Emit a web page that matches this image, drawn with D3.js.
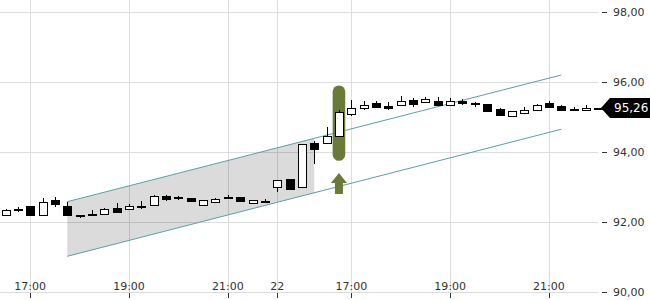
<!DOCTYPE html>
<html>
<head>
<meta charset="utf-8">
<script src="https://cdn.jsdelivr.net/npm/d3@7"></script>
<style>
  body { margin: 0; background: #fff; }
  text { font-family: "DejaVu Sans", sans-serif; }
</style>
</head>
<body>
<svg id="chart" width="650" height="300"></svg>
<script>
// 15 minute candles, two sessions (21st and 22nd)
const times = [
  "21 16:30","21 16:45","21 17:00","21 17:15","21 17:30","21 17:45","21 18:00","21 18:15","21 18:30","21 18:45",
  "21 19:00","21 19:15","21 19:30","21 19:45","21 20:00","21 20:15","21 20:30","21 20:45","21 21:00","21 21:15",
  "21 21:30","21 21:45",
  "22 15:30","22 15:45","22 16:00","22 16:15","22 16:30","22 16:45","22 17:00","22 17:15","22 17:30","22 17:45",
  "22 18:00","22 18:15","22 18:30","22 18:45","22 19:00","22 19:15","22 19:30","22 19:45","22 20:00","22 20:15",
  "22 20:30","22 20:45","22 21:00","22 21:15","22 21:30","22 21:45","22 22:00"
]
const opens = [92.19,92.38,92.45,92.19,92.63,92.47,92.21,92.24,92.24,92.40,92.38,92.46,92.50,92.75,92.71,92.68,92.50,92.58,92.72,92.70,
  92.55,92.60,93.00,93.23,92.99,94.25,94.25,94.46,95.10,95.27,95.40,95.32,95.35,95.49,95.44,95.47,95.35,95.47,95.41,95.37,
  95.23,95.03,95.11,95.21,95.39,95.32,95.24,95.20,95.26]
const highs = [92.37,92.44,92.46,92.68,92.70,92.56,92.21,92.33,92.39,92.53,92.52,92.59,92.76,92.76,92.74,92.69,92.63,92.68,92.78,92.72,
  92.63,92.65,93.20,93.24,94.24,94.32,94.70,95.21,95.50,95.45,95.47,95.42,95.61,95.53,95.56,95.56,95.55,95.52,95.42,95.38,
  95.27,95.17,95.29,95.36,95.45,95.33,95.29,95.34,95.26]
const lows = [92.17,92.29,92.19,92.18,92.44,92.18,92.12,92.20,92.23,92.27,92.33,92.38,92.49,92.59,92.64,92.60,92.47,92.56,92.66,92.58,
  92.53,92.54,92.86,92.92,92.97,93.65,94.24,94.43,95.04,95.21,95.29,95.21,95.34,95.30,95.43,95.34,95.34,95.35,95.29,95.17,
  95.05,95.02,95.10,95.20,95.28,95.19,95.17,95.19,95.26]
const closes = [92.35,92.36,92.20,92.57,92.52,92.19,92.17,92.21,92.38,92.30,92.47,92.47,92.73,92.66,92.69,92.61,92.62,92.67,92.68,92.60,
  92.62,92.57,93.19,92.93,94.22,94.08,94.46,95.15,95.27,95.35,95.30,95.25,95.47,95.37,95.52,95.35,95.45,95.40,95.38,95.18,
  95.06,95.16,95.21,95.35,95.29,95.20,95.22,95.27,95.26]

const tickKeys = ["21 17:00","21 19:00","21 21:00","22 15:30","22 17:00","22 19:00","22 21:00"]
const tickLabels = ["17:00","19:00","21:00","22","17:00","19:00","21:00"]
const priceTicks = [90, 92, 94, 96, 98]

// trend channel drawn on the chart
const channelKeys = ["21 17:45", "22 21:15"]
const channelUpper = [92.58, 96.20]
const channelLower = [91.02, 94.65]
const shadeEndKey = "22 16:15"
const signalKey = "22 16:45"
const signalRange = [93.75, 95.90]
const arrowRange = [92.80, 93.40]
const lastPrice = 95.26

const svg = d3.select("#chart")

const x = d3.scalePoint().domain(times).range([5.5, 598.3])
const y = d3.scaleLinear().domain([90, 98]).range([292, 12])
const px = v => Math.round(v) + 0.5
const fmt = v => d3.format(".2f")(v).replace(".", ",")
const green = "#6a7b39"

// grid
svg.append("g").selectAll("line")
  .data(priceTicks).enter().append("line")
  .attr("x1", 0).attr("x2", 598)
  .attr("y1", d => px(y(d))).attr("y2", d => px(y(d)))
  .attr("stroke", "#dddddd")

svg.append("g").selectAll("line")
  .data(tickKeys).enter().append("line")
  .attr("x1", d => px(x(d))).attr("x2", d => px(x(d)))
  .attr("y1", 0).attr("y2", px(y(90)))
  .attr("stroke", "#dddddd")

// shaded part of the channel
const iStart = times.indexOf(channelKeys[0]), iEnd = times.indexOf(channelKeys[1])
const iShade = times.indexOf(shadeEndKey)
const t = (iShade - iStart) / (iEnd - iStart)
const upAt = d3.interpolate(channelUpper[0], channelUpper[1])(t)
const loAt = d3.interpolate(channelLower[0], channelLower[1])(t)
svg.append("path")
  .attr("d", d3.line()([
    [x(channelKeys[0]), y(channelUpper[0])],
    [x(shadeEndKey), y(upAt)],
    [x(shadeEndKey), y(loAt)],
    [x(channelKeys[0]), y(channelLower[0])]
  ]) + "Z")
  .attr("fill", "rgba(0,0,0,0.14)")

;[channelUpper, channelLower].forEach(c => {
  svg.append("line")
    .attr("x1", x(channelKeys[0])).attr("y1", y(c[0]))
    .attr("x2", x(channelKeys[1])).attr("y2", y(c[1]))
    .attr("stroke", "#5b9fa6").attr("stroke-width", 1)
})

// signal marker + arrow
svg.append("rect")
  .attr("x", x(signalKey) - 6.3).attr("width", 12.6)
  .attr("y", y(signalRange[1])).attr("height", y(signalRange[0]) - y(signalRange[1]))
  .attr("rx", 6.3).attr("fill", green)

const ax = x(signalKey), aTop = y(arrowRange[1]), aBot = y(arrowRange[0])
svg.append("path")
  .attr("d", d3.line()([
    [ax, aTop], [ax + 8, aTop + 10], [ax + 4, aTop + 10], [ax + 4, aBot],
    [ax - 4, aBot], [ax - 4, aTop + 10], [ax - 8, aTop + 10]
  ]) + "Z")
  .attr("fill", green)

// candles
const candles = times.map((k, i) => ({ k, o: opens[i], h: highs[i], l: lows[i], c: closes[i] }))
const g = svg.append("g").selectAll("g").data(candles).enter().append("g")

g.filter(d => d.h > d.l).append("line")
  .attr("x1", d => px(x(d.k))).attr("x2", d => px(x(d.k)))
  .attr("y1", d => Math.round(y(d.h))).attr("y2", d => Math.round(y(d.l)))
  .attr("stroke", "#000")

g.append("rect")
  .attr("x", d => Math.round(x(d.k)) - 4 + 0.5)
  .attr("width", 8)
  .attr("y", d => Math.round(y(Math.max(d.o, d.c))) + 0.5)
  .attr("height", d => Math.max(1, Math.round(y(Math.min(d.o, d.c))) - Math.round(y(Math.max(d.o, d.c)))))
  .attr("fill", d => d.c > d.o ? "#fff" : "#000")
  .attr("stroke", "#000")

// y axis on the right
const ya = svg.append("g").selectAll("g").data(priceTicks).enter().append("g")
ya.append("line")
  .attr("x1", 602).attr("x2", 607)
  .attr("y1", d => px(y(d))).attr("y2", d => px(y(d)))
  .attr("stroke", "#333")
ya.append("text")
  .attr("x", 613).attr("y", d => y(d) + 4)
  .attr("font-size", "11px").attr("fill", "#333")
  .text(fmt)

// x axis labels
const xa = svg.append("g").selectAll("g").data(tickKeys).enter().append("g")
xa.append("line")
  .attr("x1", d => px(x(d))).attr("x2", d => px(x(d)))
  .attr("y1", y(90) + 1).attr("y2", y(90) + 6)
  .attr("stroke", "#333")
xa.append("text")
  .attr("x", d => x(d)).attr("y", y(90) - 2)
  .attr("text-anchor", "middle")
  .attr("font-size", "11px").attr("fill", "#333")
  .text((d, i) => tickLabels[i])

// last price tag
const ly = y(lastPrice)
svg.append("path")
  .attr("d", `M601,${ly} L610,${ly - 10} L650,${ly - 10} L650,${ly + 10} L610,${ly + 10} Z`)
  .attr("fill", "#000")
svg.append("text")
  .attr("x", 614).attr("y", ly + 4.5)
  .attr("font-size", "12px").attr("fill", "#fff")
  .text(fmt(lastPrice))
</script>
</body>
</html>
